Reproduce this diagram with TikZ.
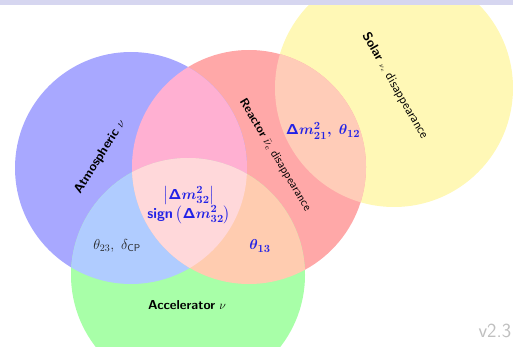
\documentclass[tikz,border=0pt]{standalone}
\usepackage{amsmath,amssymb}
\usepackage{tikz}
\definecolor{atmblue}{HTML}{A8A8FF}
\definecolor{reacred}{HTML}{FFA8A8}
\definecolor{solyellow}{HTML}{FFF8B6}
\definecolor{accgreen}{HTML}{A8FFA8}
\definecolor{atmreac}{HTML}{FFB0D2}
\definecolor{atmacc}{HTML}{B0CCFF}
\definecolor{reacacc}{HTML}{FFCCB0}
\definecolor{reacsol}{HTML}{FFCCB8}
\definecolor{allthree}{HTML}{FFD8DA}
\definecolor{parblue}{HTML}{2222E6}
\definecolor{barlav}{HTML}{D6D6F0}
\newcommand{\atmcircle}{(131,168) circle[radius=116pt]}
\newcommand{\reaccircle}{(249,167) circle[radius=117pt]}
\newcommand{\solcircle}{(394,88) circle[radius=119pt]}
\newcommand{\acccircle}{(188,275) circle[radius=117pt]}

\begin{document}
\begin{tikzpicture}[x=1pt,y=-1pt,font=\sffamily,
  lbl/.style={font=\fontsize{13}{15}\selectfont\sffamily},
  par/.style={text=parblue,font=\fontsize{15}{19}\selectfont\boldmath,align=center}]
\useasboundingbox (0,0) rectangle (513,347);
\clip (0,0) rectangle (513,347);
% base circles
\fill[solyellow] \solcircle;
\fill[reacred] \reaccircle;
\fill[atmblue] \atmcircle;
\fill[accgreen] \acccircle;
% overlaps
\begin{scope}\clip \atmcircle; \fill[atmreac] \reaccircle; \fill[atmacc] \acccircle; \end{scope}
\begin{scope}\clip \reaccircle; \fill[reacacc] \acccircle; \fill[reacsol] \solcircle; \end{scope}
\begin{scope}\clip \atmcircle; \clip \reaccircle; \fill[allthree] \acccircle; \end{scope}
\fill[barlav] (0,0) rectangle (513,5);
% labels
\node[lbl,rotate=58] (atm) at (100,157) {\textbf{Atmospheric} $\nu$};
\node[lbl,font=\fontsize{12}{14}\selectfont\sffamily,rotate=-59] (reac) at (275,155) {\textbf{Reactor} $\bar\nu_e$ disappearance};
\node[lbl,rotate=-60] (sol) at (395,86) {\textbf{Solar} {\scriptsize$\nu_e$} disappearance};
\node[lbl] (acc) at (187,305) {\textbf{Accelerator} $\nu$};
\node[par] (solpar) at (323,131) {$\mathsf{\Delta} m^2_{21},\ \theta_{12}$};
\node[par] (mid) at (189,205) {$\left|\mathsf{\Delta} m^2_{32}\right|$\\ $\mathsf{sign}\left(\mathsf{\Delta} m^2_{32}\right)$};
\node[par] (t13) at (260,246) {$\theta_{13}$};
\node[lbl,font=\fontsize{14}{16}\selectfont\sffamily,text=black!85] (t23) at (117,246) {$\theta_{23},\ \delta_{\mathsf{CP}}$};
\node[anchor=base west,text=black!25,font=\fontsize{20}{22}\selectfont\sffamily] (ver) at (475,337) {v2.3};
\end{tikzpicture}
\end{document}
